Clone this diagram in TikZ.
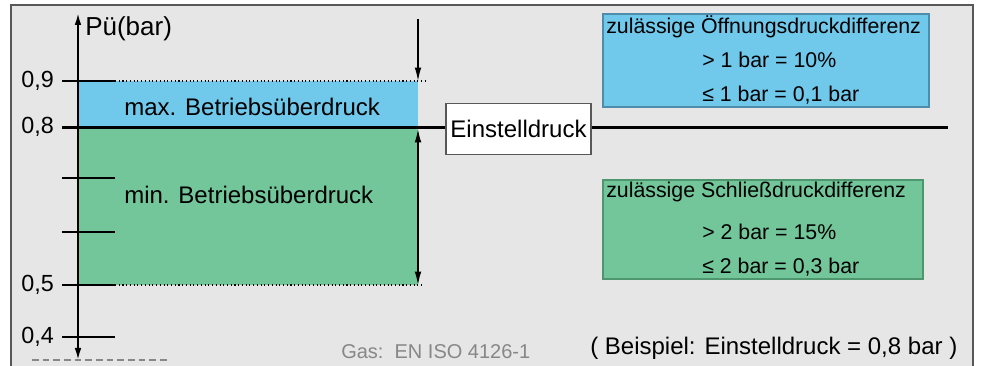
\documentclass[tikz,border=0pt]{standalone}
\usepackage{fontspec}
\setmainfont{Liberation Sans}
\usepackage{xcolor}
\usetikzlibrary{arrows.meta}

\definecolor{bgGray}{RGB}{230,230,230}
\definecolor{frameGray}{RGB}{88,88,88}
\definecolor{bandBlue}{RGB}{112,200,235}
\definecolor{bandGreen}{RGB}{114,198,154}
\definecolor{blueEdge}{RGB}{78,140,172}
\definecolor{greenEdge}{RGB}{78,150,110}
\definecolor{noteGray}{RGB}{135,135,135}

\begin{document}
\begin{tikzpicture}[x=0.75pt,y=0.75pt,yscale=-1,xscale=1,
  ticklbl/.style={anchor=east, inner sep=0.75pt, font=\fontsize{17.5}{20}\selectfont},
  bandlbl/.style={anchor=west, inner sep=0.75pt, font=\fontsize{18}{21}\selectfont},
  boxlbl/.style={anchor=west, inner sep=0.75pt, font=\fontsize{16}{19}\selectfont},
  tickline/.style={line width=1.5pt},
  limitline/.style={dotted, line width=0.8pt},
  setline/.style={line width=2.8pt},
  tipline/.style={line width=1.1pt},
  setbox/.style={draw=frameGray, fill=white, line width=0.8pt, inner sep=0pt,
    minimum width=108.75pt, minimum height=38.25pt, font=\fontsize{18}{21}\selectfont}]
\useasboundingbox (0,0) rectangle (981,366);

%Frame
\fill[bgGray] (11,5) rectangle (973,366);
\draw[frameGray, line width=1.5pt] (11,366) -- (11,5) -- (973,5) -- (973,366);

%Bands
\fill[bandBlue] (78,81) rectangle (418,127);
\fill[bandGreen] (78,127) rectangle (418,285);

%Dotted limit lines
\draw[limitline] (115,81) -- (425,81);
\draw[limitline] (115,285) -- (423,285);

%Ticks
\foreach \y in {81,178,232,285,337} \draw[tickline] (62,\y) -- (115,\y);

% Text Node
\node[ticklbl] (l9) at (55,81) {0,9};
\node[ticklbl] (l8) at (55,127) {0,8};
\node[ticklbl] (l5) at (55,285) {0,5};
\node[ticklbl] (l4) at (55,337) {0,4};

%Axis
\coordinate (axbot) at (78,360);
\coordinate (axtop) at (78,13);
\draw[line width=1.4pt, {Latex[length=9pt,width=5pt]}-{Latex[length=9pt,width=5pt]}] (axbot) -- (axtop);
\node[anchor=west, inner sep=0.75pt, font=\fontsize{19.5}{23}\selectfont] (yname) at (84,29) {Pü(bar)};

%Set pressure line
\node[setbox] (einst) at (518.5,129) {Einstelldruck};
\coordinate (s8a) at (62,127.5);
\coordinate (s8b) at (948,127.5);
\draw[setline] (s8a) -- (s8a -| einst.west);
\draw[setline] (einst.east |- s8b) -- (s8b);

%Range arrows
\coordinate (ra) at (418,19);
\coordinate (rb) at (418,81);
\coordinate (rc) at (418,129);
\coordinate (rd) at (418,285);
\draw[tipline, -{Latex[length=10pt,width=5pt]}] (ra) -- (rb);
\draw[tipline, {Latex[length=10pt,width=5pt]}-{Latex[length=10pt,width=5pt]}] (rc) -- (rd);

% Text Node
\node[bandlbl] (maxlbl) at (123,107) {max. Betriebsüberdruck};
\node[bandlbl] (minlbl) at (123,195) {min. Betriebsüberdruck};

%Opening box
\draw[fill=bandBlue, draw=blueEdge, line width=0.8pt] (603,14) rectangle (929,107);
\node[boxlbl] (oeff1) at (605,27) {zulässige Öffnungsdruckdifferenz};
\node[boxlbl] (oeff2) at (701,60) {> 1 bar = 10\%};
\node[boxlbl] (oeff3) at (701,95) {≤ 1 bar = 0,1 bar};

%Closing box
\draw[fill=bandGreen, draw=greenEdge, line width=0.8pt] (603,180) rectangle (923,279);
\node[boxlbl] (schl1) at (605,192) {zulässige Schließdruckdifferenz};
\node[boxlbl] (schl2) at (701,232) {> 2 bar = 15\%};
\node[boxlbl] (schl3) at (701,267) {≤ 2 bar = 0,3 bar};

% Text Node
\node[anchor=west, inner sep=0.75pt, text=noteGray, font=\fontsize{15}{18}\selectfont] (norm) at (340,352) {Gas:\ \ EN ISO 4126-1};
\node[anchor=west, inner sep=0.75pt, font=\fontsize{18}{21}\selectfont] (beisp) at (589,348) {( Beispiel: Einstelldruck = 0,8 bar )};

%Dashed base
\draw[noteGray, line width=1.1pt, dash pattern=on 5pt off 3pt] (32,360) -- (167,360);

\end{tikzpicture}
\end{document}
